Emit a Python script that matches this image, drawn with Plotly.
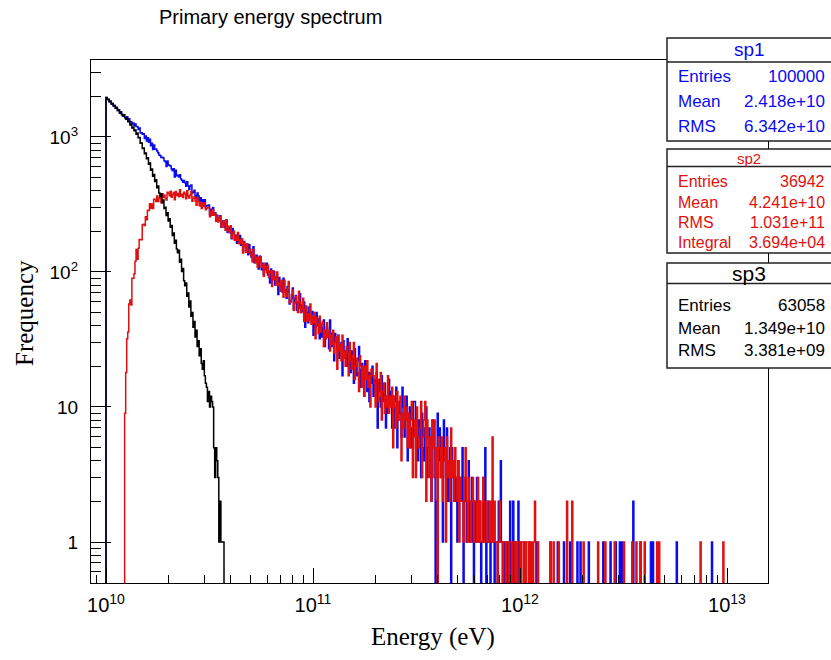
import numpy as np
import plotly.graph_objects as go

# ---------------- data (histogram bin counts, log-spaced bins) ----------------
LOG_E_MIN = 10.0        # first bin lower edge = 1e10 eV
BIN_DEX = 0.005         # bin width in decades
N_BINS = 640

# sp3 (black), bins 0..113
SP3_COUNTS = [
    1962, 1893, 1901, 1822, 1840, 1751, 1769, 1698, 1712, 1630,
    1655, 1571, 1589, 1502, 1533, 1468, 1431, 1460, 1385, 1352,
    1378, 1297, 1309, 1226, 1241, 1163, 1180, 1112, 1127, 1049,
    1068, 985, 991, 897, 902, 823, 829, 752, 760, 689,
    701, 628, 641, 566, 579, 512, 527, 468, 481, 421,
    433, 384, 362, 379, 326, 341, 295, 301, 262, 275,
    239, 248, 214, 221, 186, 194, 163, 172, 148, 139,
    145, 118, 124, 101, 106, 86, 79, 83, 66, 70,
    55, 61, 47, 50, 39, 43, 33, 37, 28, 31,
    24, 27, 21, 19, 22, 17, 15, 14, 11, 13,
    10, 12, 11, 10, 5, 3, 5, 4, 3, 1,
    2, 1, 1, 1,
]

# sp1 (blue), dense bins 0..400
SP1_COUNTS = [
    1962, 1893, 1901, 1822, 1840, 1751, 1769, 1698, 1712, 1630,
    1655, 1571, 1589, 1502, 1533, 1468, 1431, 1460, 1394, 1370,
    1410, 1333, 1367, 1288, 1298, 1253, 1270, 1209, 1247, 1196,
    1192, 1135, 1165, 1070, 1075, 1047, 1055, 973, 1016, 933,
    988, 913, 961, 862, 898, 807, 872, 812, 814, 786,
    765, 736, 728, 705, 706, 699, 667, 654, 603, 664,
    622, 615, 610, 579, 561, 581, 505, 566, 517, 520,
    505, 524, 489, 478, 462, 476, 457, 431, 465, 436,
    408, 433, 441, 384, 390, 403, 369, 349, 384, 365,
    333, 355, 316, 343, 327, 343, 304, 311, 310, 313,
    266, 292, 274, 300, 268, 275, 243, 263, 237, 250,
    261, 215, 227, 240, 214, 227, 244, 196, 208, 214,
    194, 176, 210, 193, 174, 187, 163, 184, 171, 186,
    158, 166, 141, 168, 160, 146, 161, 134, 159, 138,
    129, 141, 154, 117, 127, 133, 118, 105, 131, 119,
    104, 116, 96, 114, 104, 116, 95, 101, 83, 105,
    99, 88, 101, 80, 87, 91, 68, 91, 78, 82,
    71, 90, 71, 74, 64, 78, 71, 58, 61, 64,
    76, 53, 64, 67, 52, 60, 54, 69, 50, 57,
    51, 60, 39, 55, 50, 42, 55, 44, 49, 51,
    34, 45, 39, 50, 40, 45, 32, 41, 33, 39,
    44, 28, 33, 39, 34, 27, 44, 35, 28, 32,
    22, 35, 32, 27, 34, 23, 27, 30, 17, 31,
    24, 26, 20, 32, 21, 23, 18, 26, 23, 15,
    27, 20, 17, 22, 28, 14, 19, 21, 16, 12,
    22, 18, 13, 18, 11, 18, 15, 20, 12, 16,
    13, 18, 7, 16, 13, 10, 17, 11, 14, 15,
    7, 12, 9, 16, 11, 13, 7, 12, 7, 11,
    14, 5, 8, 11, 9, 6, 14, 10, 6, 8,
    12, 4, 8, 10, 5, 7, 6, 11, 11, 5,
    7, 4, 8, 7, 3, 9, 5, 4, 7, 10,
    3, 5, 7, 4, 2, 8, 6, 3, 0, 2,
    9, 4, 7, 3, 5, 1, 8, 5, 3, 7,
    2, 4, 5, 0, 5, 3, 4, 2, 3, 1,
    4, 2, 3, 2, 5, 0, 2, 3, 1, 2,
    4, 1, 2, 3, 1, 0, 2, 1, 3, 2,
    1, 2, 0, 1, 3, 1, 5, 0, 1, 2,
    1, 0, 1, 2, 1, 0, 1, 1, 0, 2,
    1, 4, 1, 0, 1, 0, 1, 1, 0, 1,
    2, 0, 0, 2, 0, 1, 0, 0, 2, 0,
    1,
]
SP1_TAIL_BINS = [404, 409, 416, 429, 436, 442, 448, 455, 458, 466, 480,
                 487, 492, 496, 498, 509, 516, 526, 528, 551, 585]
SP1_TAIL_COUNTS = [1, 1, 1, 1, 1, 1, 1, 1, 1, 1, 1,
                   1, 1, 1, 1, 2, 1, 1, 1, 1, 1]

# sp2 (red), dense bins 0..419
SP2_COUNTS = [
    0, 0, 0, 0, 0, 0, 0, 0, 0, 0,
    0, 0, 0, 0, 0, 0, 0, 0, 9, 18,
    32, 36, 58, 62, 57, 90, 90, 97, 120, 147,
    124, 150, 174, 173, 173, 224, 226, 221, 256, 244,
    287, 285, 320, 296, 319, 295, 345, 344, 333, 365,
    332, 352, 366, 326, 380, 358, 372, 353, 341, 389,
    383, 367, 396, 358, 375, 387, 342, 394, 369, 381,
    360, 406, 365, 377, 356, 390, 378, 348, 399, 366,
    353, 372, 394, 334, 351, 360, 336, 312, 356, 334,
    309, 328, 295, 324, 305, 326, 289, 297, 299, 300,
    256, 280, 263, 290, 263, 272, 238, 259, 234, 249,
    259, 214, 226, 239, 224, 204, 244, 219, 198, 201,
    220, 178, 196, 200, 172, 183, 172, 196, 162, 173,
    162, 176, 138, 165, 154, 140, 161, 140, 142, 148,
    132, 119, 146, 133, 117, 129, 109, 128, 117, 130,
    108, 114, 93, 116, 110, 99, 112, 91, 98, 102,
    78, 102, 88, 92, 80, 100, 79, 83, 72, 87,
    80, 65, 87, 72, 66, 75, 85, 59, 60, 68,
    74, 52, 59, 66, 60, 50, 72, 60, 50, 53,
    64, 43, 53, 56, 43, 49, 44, 58, 41, 47,
    42, 50, 32, 46, 41, 35, 47, 36, 41, 43,
    28, 37, 32, 42, 33, 37, 26, 34, 29, 37,
    25, 30, 33, 19, 34, 26, 29, 22, 34, 23,
    26, 20, 28, 25, 17, 30, 22, 19, 24, 30,
    16, 20, 23, 18, 13, 24, 20, 14, 20, 12,
    20, 16, 22, 14, 17, 10, 19, 17, 17, 15,
    10, 21, 16, 11, 12, 18, 8, 13, 15, 9,
    12, 10, 17, 9, 12, 10, 14, 5, 12, 10,
    7, 13, 8, 11, 12, 4, 9, 7, 12, 8,
    10, 5, 9, 5, 8, 11, 3, 6, 8, 3,
    10, 6, 5, 7, 11, 3, 6, 8, 11, 2,
    8, 6, 3, 6, 2, 8, 5, 8, 3, 5,
    0, 6, 5, 3, 6, 2, 4, 5, 1, 6,
    3, 4, 2, 7, 3, 4, 2, 5, 3, 2,
    4, 1, 3, 2, 2, 1, 3, 5, 2, 1,
    3, 2, 1, 2, 3, 1, 2, 2, 1, 3,
    1, 2, 1, 1, 3, 2, 1, 1, 2, 1,
    1, 2, 1, 6, 1, 2, 1, 1, 0, 1,
    2, 1, 1, 0, 1, 1, 0, 1, 1, 0,
    1, 1, 0, 1, 1, 0, 1, 0, 1, 1,
    0, 1, 1, 0, 1, 0, 1, 1, 0, 1,
    0, 1, 0, 1, 2, 0, 0, 1, 0, 0,
]
SP2_TAIL_BINS = [429, 432, 437, 445, 450, 461, 475, 482, 491, 500,
                 508, 512, 516, 520, 532, 534, 574, 596]
SP2_TAIL_COUNTS = [1, 1, 1, 2, 2, 1, 1, 1, 1, 1,
                   1, 1, 1, 1, 1, 1, 1, 1]

STATS = [
    ("sp1", [("Entries", "100000"), ("Mean", "2.418e+10"), ("RMS", "6.342e+10")]),
    ("sp2", [("Entries", "36942"), ("Mean", "4.241e+10"), ("RMS", "1.031e+11"),
             ("Integral", "3.694e+04")]),
    ("sp3", [("Entries", "63058"), ("Mean", "1.349e+10"), ("RMS", "3.381e+09")]),
]

X_TICK_EXPONENTS = [10, 11, 12, 13]
Y_TICK_VALUES = [1, 10, 100, 1000]
Y_TICK_TEXT = ["1", "10", "10<sup>2</sup>", "10<sup>3</sup>"]

# ---------------- layout geometry ----------------
W, H = 831, 660
PL, PR, PT, PB = 91, 768, 60, 583
X_RANGE = [9.9275, 13.198]
Y_RANGE = [-0.3037, 3.570]

BLUE = "rgb(10,10,240)"
RED = "rgb(225,15,15)"
BLACK = "black"


def px(xp):
    return (xp - PL) / (PR - PL)


def py(yp):
    return (PB - yp) / (PB - PT)


def dense(counts, tail_bins=(), tail_counts=()):
    arr = np.zeros(N_BINS)
    arr[:len(counts)] = counts
    for b, c in zip(tail_bins, tail_counts):
        arr[b] = c
    return arr


edges = 10 ** (LOG_E_MIN + BIN_DEX * np.arange(N_BINS + 1))
floor_val = 10 ** (Y_RANGE[0] - 0.1)


def step_trace(counts, color, name):
    vals = np.asarray(counts, dtype=float)
    n = len(vals)
    vals = np.where(vals > 0, vals, floor_val)
    xs = np.concatenate([[edges[0]], edges[:n], [edges[n], edges[n]]])
    ys = np.concatenate([[floor_val], vals, [vals[-1], floor_val]])
    return go.Scatter(x=xs, y=ys, mode="lines", line=dict(color=color, width=1.5, shape="hv"),
                      name=name, showlegend=False, hoverinfo="skip")


fig = go.Figure()
fig.add_trace(step_trace(dense(SP1_COUNTS, SP1_TAIL_BINS, SP1_TAIL_COUNTS), BLUE, "sp1"))
fig.add_trace(step_trace(dense(SP2_COUNTS, SP2_TAIL_BINS, SP2_TAIL_COUNTS), RED, "sp2"))
fig.add_trace(step_trace(SP3_COUNTS + [0], BLACK, "sp3"))

x_major = [10.0 ** e for e in X_TICK_EXPONENTS]
x_text = ["10<sup>%d</sup>" % e for e in X_TICK_EXPONENTS]
x_minor = [m * 10.0 ** e for e in range(9, 14) for m in range(2, 10)]
y_minor = [m * 10.0 ** e for e in range(-1, 4) for m in range(2, 10)]

sans = "Liberation Sans, Arial, Helvetica, sans-serif"
serif = "Liberation Serif, Times New Roman, serif"

fig.update_layout(
    width=W, height=H,
    margin=dict(l=PL, r=W - PR, t=PT, b=H - PB),
    paper_bgcolor="white", plot_bgcolor="white",
    showlegend=False,
    xaxis=dict(type="log", range=X_RANGE, showline=True, linecolor="black", linewidth=1.2,
               mirror=True, showgrid=False, zeroline=False,
               ticks="inside", ticklen=15, tickwidth=1, tickcolor="black",
               tickmode="array", tickvals=x_major, ticktext=x_text,
               tickfont=dict(family=sans, size=20, color="black"),
               ticklabelstandoff=4,
               minor=dict(ticks="inside", ticklen=8, tickwidth=1, tickcolor="black",
                          tickmode="array", tickvals=x_minor, showgrid=False)),
    yaxis=dict(type="log", range=Y_RANGE, showline=True, linecolor="black", linewidth=1.2,
               mirror=True, showgrid=False, zeroline=False,
               ticks="inside", ticklen=20, tickwidth=1, tickcolor="black",
               tickmode="array", tickvals=Y_TICK_VALUES, ticktext=Y_TICK_TEXT,
               tickfont=dict(family=sans, size=19, color="black"),
               ticklabelstandoff=8,
               minor=dict(ticks="inside", ticklen=10, tickwidth=1, tickcolor="black",
                          tickmode="array", tickvals=y_minor, showgrid=False)),
)

annotations = [
    dict(text="Primary energy spectrum", x=px(270), y=py(17), xref="paper", yref="paper",
         showarrow=False, xanchor="center", yanchor="middle",
         font=dict(family=sans, size=20, color="black")),
    dict(text="Energy (eV)", x=px(433), y=py(637), xref="paper", yref="paper",
         showarrow=False, xanchor="center", yanchor="middle",
         font=dict(family=serif, size=25, color="black")),
    dict(text="Frequency", x=px(24), y=py(313), xref="paper", yref="paper",
         showarrow=False, xanchor="center", yanchor="middle", textangle=-90,
         font=dict(family=serif, size=25, color="black")),
]
shapes = []

# stat boxes: (top, title-separator, bottom, title y, title size, row ys, row size, color)
BOX_LEFT, BOX_RIGHT = 667, 834
box_specs = [
    (38, 62, 141, 50, 19, [76.5, 101.5, 126.5], 17, BLUE),
    (149, 166.5, 253, 158, 15, [181.5, 202, 222.5, 242.5], 16, RED),
    (263, 283.5, 368, 273.5, 21, [305, 328, 350.5], 17, BLACK),
]
for (name, rows), (top, sep, bot, ty, tsize, rys, rsize, col) in zip(STATS, box_specs):
    shapes.append(dict(type="rect", xref="paper", yref="paper",
                       x0=px(BOX_LEFT), x1=px(BOX_RIGHT), y0=py(bot), y1=py(top),
                       fillcolor="white", line=dict(color="#222222", width=1.5), layer="above"))
    shapes.append(dict(type="line", xref="paper", yref="paper",
                       x0=px(BOX_LEFT), x1=px(BOX_RIGHT), y0=py(sep), y1=py(sep),
                       line=dict(color="#222222", width=1.5), layer="above"))
    annotations.append(dict(text=name, x=px(749), y=py(ty), xref="paper", yref="paper",
                            showarrow=False, xanchor="center", yanchor="middle",
                            font=dict(family=sans, size=tsize, color=col)))
    for (lab, val), ry in zip(rows, rys):
        annotations.append(dict(text=lab, x=px(676), y=py(ry), xref="paper", yref="paper",
                                showarrow=False, xanchor="left", yanchor="middle",
                                font=dict(family=sans, size=rsize, color=col)))
        annotations.append(dict(text=val, x=px(827), y=py(ry), xref="paper", yref="paper",
                                showarrow=False, xanchor="right", yanchor="middle",
                                font=dict(family=sans, size=rsize, color=col)))

fig.update_layout(annotations=annotations, shapes=shapes)
fig.write_html("out.html", config={"displayModeBar": False},
               post_script="document.body.style.margin='0';document.body.style.overflow='hidden';")
